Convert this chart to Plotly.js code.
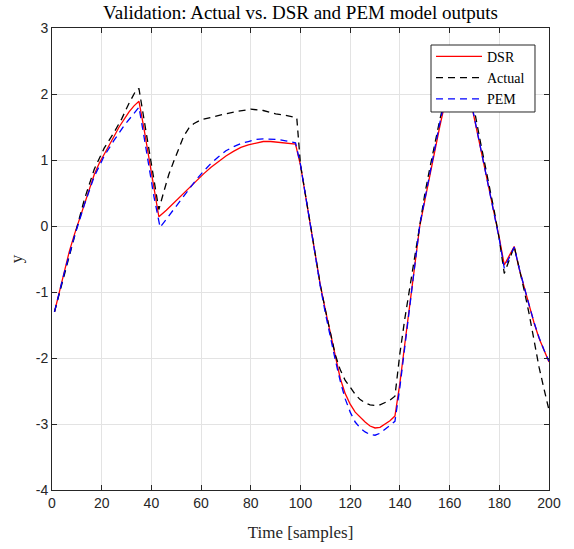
<!DOCTYPE html>
<html>
<head>
<meta charset="utf-8">
<script src="https://cdn.plot.ly/plotly-3.0.1.min.js"></script>
<style>html,body{margin:0;padding:0;background:#fff;}#chart{width:574px;height:549px;}</style>
</head>
<body>
<div id="chart"></div>
<script>
// DSR model output
const dsrX = [1,3,5,7,9,11,13,15,17,19,21,23,25,27,29,31,33,35,37,39,41,43,46,49,52,55,58,61,64,67,70,73,76,79,82,85,88,91,94,98,100,102,104,106,108,110,112,114,116,118,120,122,124,126,128,130,132,134,136,138,140,142,144,146,148,150,152,154,156,158,160,162,163.5,165,167,169,170,172,174,176,178,180,182,186,188,190,192,194,196,198,200];
const dsrY = [-1.30,-0.98,-0.67,-0.38,-0.13,0.10,0.33,0.56,0.78,0.95,1.08,1.22,1.36,1.50,1.62,1.73,1.82,1.89,1.48,1.03,0.58,0.14,0.24,0.35,0.46,0.58,0.68,0.79,0.89,0.98,1.06,1.13,1.19,1.23,1.26,1.28,1.28,1.27,1.26,1.24,0.92,0.47,-0.04,-0.47,-0.90,-1.27,-1.63,-2.00,-2.31,-2.54,-2.70,-2.82,-2.90,-2.97,-3.03,-3.06,-3.05,-3.00,-2.95,-2.88,-2.38,-1.78,-1.18,-0.60,0.00,0.38,0.76,1.14,1.50,1.84,2.10,2.30,2.38,2.30,2.10,1.80,1.62,1.26,0.91,0.55,0.19,-0.18,-0.59,-0.31,-0.65,-0.93,-1.20,-1.47,-1.70,-1.89,-2.06];

// Actual output
const actX = [1,5,9,13,17,21,25,28,31,34,35,37,39,41,43,45,47,49,51,53,55,57,60,65,70,75,80,85,90,95,98.5,100,102,104,106,108,110,112,114,116,118,120,122,124,126,128,130,132,134,136,138,140,142,144,146,148,150,152,154,156,158,160,162,163.5,165,167,169,170,172,174,176,178,180,182,186,188,190,192,194,196,198,200];
const actY = [-1.30,-0.74,-0.18,0.40,0.86,1.18,1.42,1.62,1.86,2.07,2.08,1.62,1.17,0.72,0.25,0.52,0.78,0.98,1.18,1.36,1.48,1.55,1.61,1.66,1.70,1.74,1.77,1.75,1.70,1.67,1.64,0.93,0.47,-0.04,-0.47,-0.90,-1.27,-1.63,-1.95,-2.18,-2.34,-2.44,-2.55,-2.63,-2.68,-2.71,-2.72,-2.71,-2.68,-2.64,-2.58,-1.93,-1.40,-0.92,-0.45,0.05,0.48,0.87,1.25,1.60,1.92,2.17,2.35,2.42,2.36,2.18,1.90,1.75,1.35,0.98,0.60,0.22,-0.20,-0.72,-0.31,-0.62,-0.97,-1.33,-1.76,-2.14,-2.47,-2.79];

// PEM model output
const pemX = [1,5,9,13,17,21,25,29,32,35,37,39,41,43.5,46,49,52,55,58,61,64,67,70,73,76,79,82,85,88,91,94,98,100,102,104,106,108,110,112,114,116,118,120,122,124,126,128,130,132,134,136,138,140,142,144,146,148,150,152,154,156,158,160,162,163.5,165,167,169,170,172,174,176,178,180,182,186,188,190,192,194,196,198,200];
const pemY = [-1.30,-0.70,-0.16,0.32,0.75,1.06,1.30,1.52,1.66,1.80,1.36,0.91,0.45,-0.02,0.10,0.24,0.40,0.55,0.70,0.83,0.95,1.05,1.14,1.20,1.25,1.28,1.31,1.32,1.32,1.31,1.29,1.26,0.93,0.47,-0.04,-0.48,-0.92,-1.32,-1.70,-2.03,-2.35,-2.62,-2.82,-2.97,-3.06,-3.12,-3.16,-3.17,-3.14,-3.08,-3.02,-2.96,-2.44,-1.82,-1.20,-0.60,0.02,0.40,0.79,1.17,1.55,1.90,2.15,2.33,2.40,2.33,2.12,1.82,1.64,1.28,0.92,0.56,0.19,-0.20,-0.64,-0.32,-0.64,-0.93,-1.20,-1.46,-1.69,-1.88,-2.05];

const xTicks = [0,20,40,60,80,100,120,140,160,180,200];
const yTicks = [-4,-3,-2,-1,0,1,2,3];

const serif = "Liberation Serif, DejaVu Serif, serif";
const sans = "Liberation Sans, Arial, sans-serif";

const traces = [
  {x: dsrX, y: dsrY, name: "DSR", mode: "lines", line: {color: "#ff0000", width: 1.3}},
  {x: actX, y: actY, name: "Actual", mode: "lines", line: {color: "#000000", width: 1.3, dash: "7px,5px"}},
  {x: pemX, y: pemY, name: "PEM", mode: "lines", line: {color: "#0000ff", width: 1.3, dash: "7px,5px"}}
];

const axisCommon = {
  showline: true, mirror: "ticks", linecolor: "#262626", linewidth: 1,
  ticks: "inside", ticklen: 5, tickcolor: "#262626", tickwidth: 1,
  showgrid: true, gridcolor: "#e3e3e3", gridwidth: 1, zeroline: false,
  tickfont: {family: sans, size: 14, color: "#262626"}
};

const layout = {
  width: 574, height: 549,
  margin: {l: 52, r: 25, t: 28, b: 59},
  paper_bgcolor: "#ffffff", plot_bgcolor: "#ffffff",
  title: {text: "Validation: Actual vs. DSR and PEM model outputs", font: {family: serif, size: 19, color: "#000"},
          x: 0.5235, xanchor: "center", y: 0.977, yanchor: "middle", yref: "container"},
  xaxis: Object.assign({}, axisCommon, {range: [0, 200], tickvals: xTicks, ticktext: xTicks.map(String),
          title: {text: "Time [samples]", font: {family: serif, size: 17, color: "#262626"}, standoff: 16}}),
  yaxis: Object.assign({}, axisCommon, {range: [-4, 3], tickvals: yTicks, ticktext: yTicks.map(String),
          title: {text: "y", font: {family: serif, size: 17, color: "#262626"}, standoff: 8}}),
  shapes: [{type: "rect", xref: "paper", yref: "paper", x0: 0.7626, x1: 0.9718, y0: 0.8182, y1: 0.9632,
            fillcolor: "#ffffff", line: {color: "#262626", width: 1}, layer: "above"}],
  showlegend: true,
  legend: {x: 0.7626, y: 0.9723, xanchor: "left", yanchor: "top", bgcolor: "rgba(0,0,0,0)",
           borderwidth: 0, font: {family: serif, size: 14, color: "#000"},
           tracegroupgap: 0, itemwidth: 46}
};

Plotly.newPlot("chart", traces, layout, {displayModeBar: false, staticPlot: true});
</script>
</body>
</html>
